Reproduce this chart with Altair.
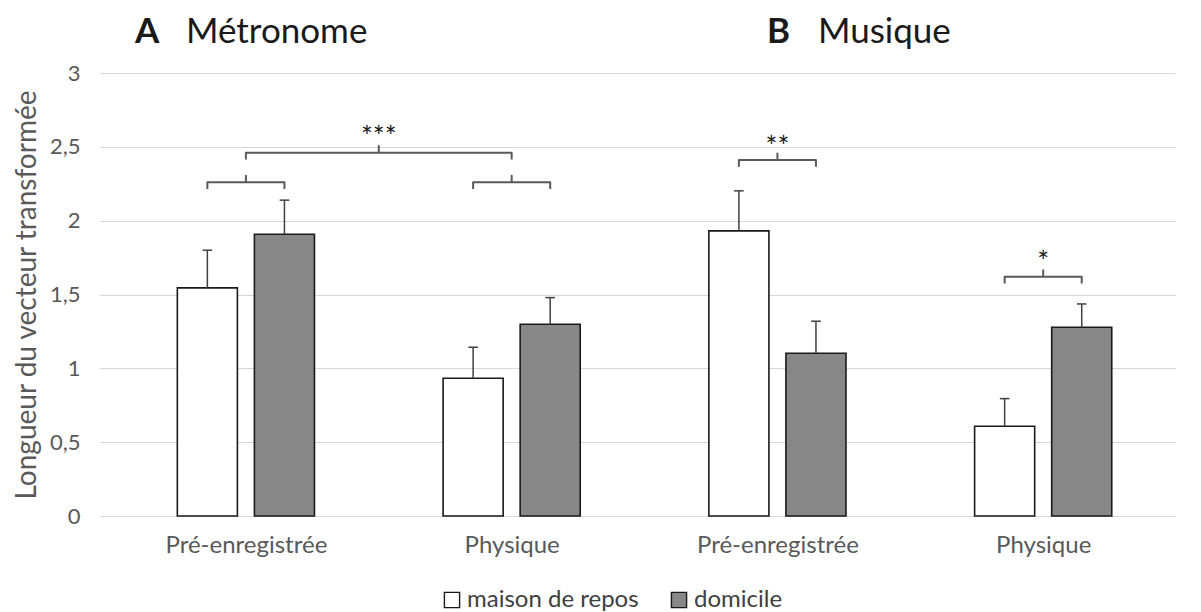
import altair as alt
import pandas as pd

# ---------------- data ----------------
categories = ["Pré-enregistrée", "Physique", "Pré-enregistrée", "Physique"]
panel_letters = ["A", "B"]
panel_names = ["Métronome", "Musique"]
series = ["maison de repos", "domicile"]
maison_mean = [1.545, 0.933, 1.931, 0.608]
maison_sem = [0.255, 0.210, 0.271, 0.187]
domicile_mean = [1.908, 1.299, 1.102, 1.278]
domicile_sem = [0.231, 0.180, 0.217, 0.158]
y_ticks = [0, 0.5, 1, 1.5, 2, 2.5, 3]

# significance brackets: left (group, side), right (group, side), height, label
br_left_group = [0, 1, 0, 2, 3]
br_left_side = ["maison de repos", "maison de repos", "centre", "maison de repos", "maison de repos"]
br_right_group = [0, 1, 1, 2, 3]
br_right_side = ["domicile", "domicile", "centre", "domicile", "domicile"]
br_height = [2.26, 2.26, 2.46, 2.41, 1.62]
br_label = ["", "", "***", "**", "*"]
br_label_y = [0, 0, 2.60, 2.53, 1.757]

# ---------------- layout constants ----------------
OFF = {"maison de repos": -0.145, "domicile": 0.145, "centre": 0.0}
HALF_W = 0.113
CAP = 0.018
DEPTH = 0.045
GREY_TXT = "#595959"
FONT = "Lato"

rows = []
for i, cat in enumerate(categories):
    for s, means, sems in ((series[0], maison_mean, maison_sem), (series[1], domicile_mean, domicile_sem)):
        pos = i + OFF[s]
        rows.append({"grp": i, "cat": cat, "series": s, "mean": means[i], "top": means[i] + sems[i],
                     "pos": pos, "x0": pos - HALF_W, "x1": pos + HALF_W,
                     "c0": pos - CAP, "c1": pos + CAP})
df = pd.DataFrame(rows)

lines = []
labels = []
for k in range(len(br_height)):
    xl = br_left_group[k] + OFF[br_left_side[k]]
    xr = br_right_group[k] + OFF[br_right_side[k]]
    xm = (xl + xr) / 2
    h = br_height[k]
    pts = [(xl, h - DEPTH), (xl, h), (xm, h), (xm, h + DEPTH), (xm, h), (xr, h), (xr, h - DEPTH)]
    for j, (px, py) in enumerate(pts):
        lines.append({"id": k, "o": j, "bx": px, "by": py})
    if br_label[k]:
        labels.append({"lx": xm, "ly": br_label_y[k], "txt": br_label[k]})
df_lines = pd.DataFrame(lines)
df_lab = pd.DataFrame(labels)

titles = pd.DataFrame({"letter": panel_letters, "name": panel_names, "k": [0, 1]})

label_array = "[" + ",".join("'" + c + "'" for c in categories) + "]"

x_scale = alt.Scale(domain=[-0.549, 3.496], nice=False, zero=False)
y_scale = alt.Scale(domain=[0, 3], nice=False)

x_axis = alt.Axis(values=[0, 1, 2, 3], labelExpr=label_array + "[round(datum.value)]", title=None,
                  grid=False, ticks=False, domain=False,
                  labelFontSize=24, labelColor=GREY_TXT, labelFont=FONT, labelPadding=17)
y_axis = alt.Axis(values=y_ticks, labelExpr="replace(format(datum.value, '~g'), '.', ',')",
                  title="Longueur du vecteur transformée", titleFontSize=28, titleFont=FONT,
                  titleFontWeight="normal", titleColor=GREY_TXT, titlePadding=8,
                  grid=True, gridColor="#d6d6d6", gridWidth=1, ticks=False, domain=False,
                  labelFontSize=22, labelColor=GREY_TXT, labelFont=FONT, labelPadding=20)

base = alt.Chart(df)

bars = base.mark_bar(stroke="#1a1a1a", strokeWidth=1.6).encode(
    x=alt.X("x0:Q", scale=x_scale, axis=x_axis),
    x2="x1:Q",
    y=alt.Y("mean:Q", scale=y_scale, axis=y_axis),
    y2=alt.datum(0),
    fill=alt.Fill("series:N", scale=alt.Scale(domain=series, range=["#ffffff", "#878787"]),
                  legend=alt.Legend(orient="none", legendX=340, legendY=515, direction="horizontal",
                                    title=None, symbolType="square", symbolSize=230,
                                    symbolStrokeColor="#1a1a1a", symbolStrokeWidth=1.4,
                                    labelFontSize=24, labelColor="#404040", labelFont=FONT,
                                    labelLimit=400, columnPadding=28, labelOffset=3)),
)

err = base.mark_rule(color="#404040", strokeWidth=1.5).encode(
    x="pos:Q", y="mean:Q", y2="top:Q")
caps = base.mark_rule(color="#404040", strokeWidth=1.5).encode(
    x="c0:Q", x2="c1:Q", y="top:Q")

br = alt.Chart(df_lines).mark_line(color="#595959", strokeWidth=2, strokeJoin="round").encode(
    x="bx:Q", y="by:Q", detail="id:N", order="o:Q")

stars = alt.Chart(df_lab).mark_text(fontSize=28, font=FONT, color="#1a1a1a", baseline="middle", dy=7).encode(
    x="lx:Q", y="ly:Q", text="txt:N")

t_letter = alt.Chart(titles).mark_text(fontSize=35, font=FONT, fontWeight="bold", color="#1a1a1a",
                                       align="left", baseline="alphabetic").encode(
    x=alt.X("k:Q", scale=alt.Scale(domain=[0, 1], range=[35, 667]), axis=None),
    y=alt.value(-30), text="letter:N")
t_name = alt.Chart(titles).mark_text(fontSize=35, font=FONT, color="#1a1a1a",
                                     align="left", baseline="alphabetic").encode(
    x=alt.X("k:Q", scale=alt.Scale(domain=[0, 1], range=[86, 718]), axis=None),
    y=alt.value(-30), text="name:N")

titles_layer = alt.layer(t_letter, t_name).resolve_scale(x="independent")

chart = alt.layer(bars, err, caps, br, stars).properties(width=1075, height=443)
chart = alt.layer(chart, titles_layer).resolve_scale(x="independent").properties(
    autosize=alt.AutoSizeParams(type="none"),
    padding={"left": 92, "top": 65, "right": 10, "bottom": 96},
).configure_view(stroke=None)

chart.save("out.html", embed_options={"renderer": "svg", "actions": False})
